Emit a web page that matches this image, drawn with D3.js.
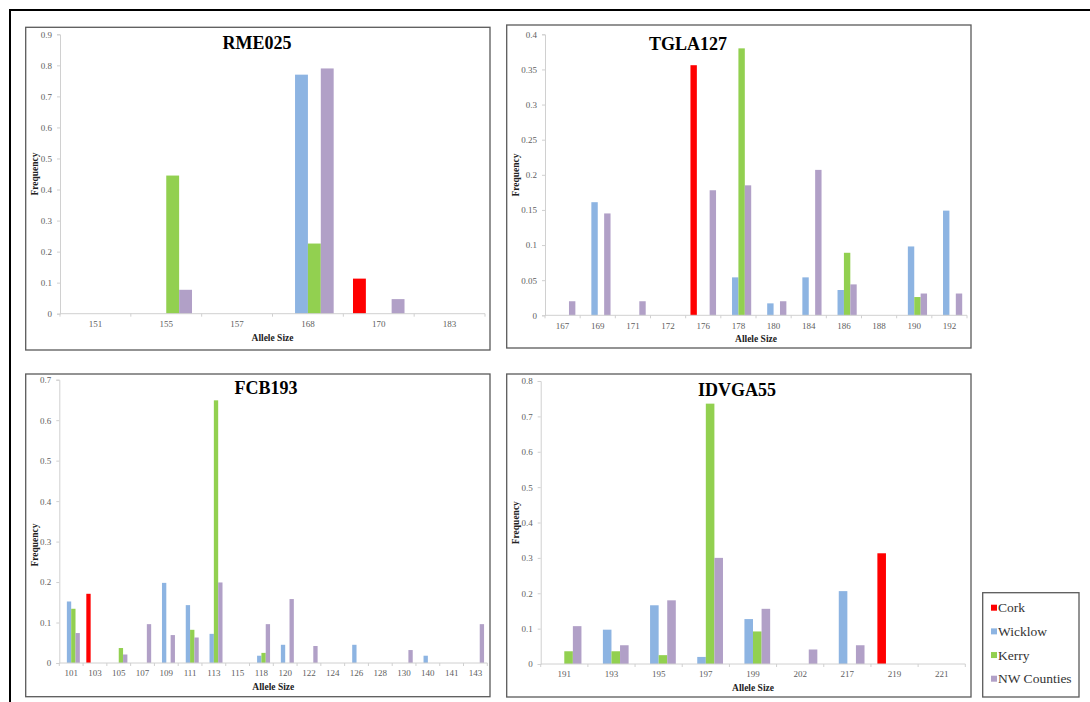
<!DOCTYPE html>
<html>
<head>
<meta charset="utf-8">
<script src="https://cdn.jsdelivr.net/npm/d3@7"></script>
<style>
  html, body { margin: 0; padding: 0; background: #fff; }
  svg { display: block; }
</style>
</head>
<body>
<svg id="chart" width="1090" height="702"></svg>
<script>
// ---------- DATA ----------
const seriesNames = ["Cork", "Wicklow", "Kerry", "NW Counties"];
const seriesColors = ["#FF0000", "#8DB4E2", "#92D050", "#B1A0C7"];

const rmeAlleles  = ["151", "155", "157", "168", "170", "183"];
const rmeCork     = [0, 0, 0, 0, 0.113, 0];
const rmeWicklow  = [0, 0, 0, 0.77, 0, 0];
const rmeKerry    = [0, 0.445, 0, 0.226, 0, 0];
const rmeNW       = [0, 0.077, 0, 0.79, 0.047, 0];
const rmeTicks    = [0, 0.1, 0.2, 0.3, 0.4, 0.5, 0.6, 0.7, 0.8, 0.9];

const tglaAlleles = ["167", "169", "171", "172", "176", "178", "180", "184", "186", "188", "190", "192"];
const tglaCork    = [0, 0, 0, 0, 0.356, 0, 0, 0, 0, 0, 0, 0];
const tglaWicklow = [0, 0.161, 0, 0, 0, 0.054, 0.017, 0.054, 0.036, 0, 0.098, 0.149];
const tglaKerry   = [0, 0, 0, 0, 0, 0.38, 0, 0, 0.089, 0, 0.026, 0];
const tglaNW      = [0.02, 0.145, 0.02, 0, 0.178, 0.185, 0.02, 0.207, 0.044, 0, 0.031, 0.031];
const tglaTicks   = [0, 0.05, 0.1, 0.15, 0.2, 0.25, 0.3, 0.35, 0.4];

const fcbAlleles  = ["101", "103", "105", "107", "109", "111", "113", "115", "118", "120", "122", "124", "126", "128", "130", "140", "141", "143"];
const fcbCork     = [0, 0.171, 0, 0, 0, 0, 0, 0, 0, 0, 0, 0, 0, 0, 0, 0, 0, 0];
const fcbWicklow  = [0.152, 0, 0, 0, 0.198, 0.143, 0.072, 0, 0.018, 0.045, 0, 0, 0.045, 0, 0, 0.018, 0, 0];
const fcbKerry    = [0.134, 0, 0.037, 0, 0, 0.082, 0.649, 0, 0.025, 0, 0, 0, 0, 0, 0, 0, 0, 0];
const fcbNW       = [0.074, 0, 0.021, 0.096, 0.069, 0.063, 0.199, 0, 0.096, 0.158, 0.042, 0, 0, 0, 0.032, 0, 0, 0.096];
const fcbTicks    = [0, 0.1, 0.2, 0.3, 0.4, 0.5, 0.6, 0.7];

const idvAlleles  = ["191", "193", "195", "197", "199", "202", "217", "219", "221"];
const idvCork     = [0, 0, 0, 0, 0, 0, 0, 0.313, 0];
const idvWicklow  = [0, 0.097, 0.166, 0.02, 0.127, 0, 0.206, 0, 0];
const idvKerry    = [0.036, 0.036, 0.025, 0.736, 0.092, 0, 0, 0, 0];
const idvNW       = [0.107, 0.053, 0.18, 0.3, 0.156, 0.041, 0.053, 0, 0];
const idvTicks    = [0, 0.1, 0.2, 0.3, 0.4, 0.5, 0.6, 0.7, 0.8];

// ---------- LAYOUT ----------
const panels = [
  { title: "RME025", alleles: rmeAlleles, series: [rmeCork, rmeWicklow, rmeKerry, rmeNW], ticks: rmeTicks,
    box: [25.7, 27.3, 490, 350], plot: [60, 34.3, 485, 313.7], titleX: 257, titleY: 49.3, freqY: 174 },
  { title: "TGLA127", alleles: tglaAlleles, series: [tglaCork, tglaWicklow, tglaKerry, tglaNW], ticks: tglaTicks,
    box: [506.7, 25, 971, 348], plot: [545, 34.3, 967, 315.3], titleX: 688, titleY: 50, freqY: 175 },
  { title: "FCB193", alleles: fcbAlleles, series: [fcbCork, fcbWicklow, fcbKerry, fcbNW], ticks: fcbTicks,
    box: [25.7, 374, 490, 696.7], plot: [59.3, 379.7, 487.3, 663], titleX: 266, titleY: 394.3, freqY: 545 },
  { title: "IDVGA55", alleles: idvAlleles, series: [idvCork, idvWicklow, idvKerry, idvNW], ticks: idvTicks,
    box: [506.7, 374, 971, 697], plot: [540.7, 381, 965.3, 664], titleX: 737, titleY: 395.7, freqY: 522.7 }
];

const serif = "'Liberation Serif', 'Times New Roman', serif";
const svg = d3.select("#chart");

// outer frame (top and left edges)
svg.append("path")
  .attr("d", "M10,702 L10,10 L1090,10")
  .attr("fill", "none").attr("stroke", "#000").attr("stroke-width", 2);

panels.forEach(p => {
  const [bx0, by0, bx1, by1] = p.box;
  const [px0, pyTop, px1, py0] = p.plot;

  svg.append("rect")
    .attr("x", bx0).attr("y", by0).attr("width", bx1 - bx0).attr("height", by1 - by0)
    .attr("fill", "#fff").attr("stroke", "#5a5a5a").attr("stroke-width", 1.3);

  const yMax = p.ticks[p.ticks.length - 1];
  const y = d3.scaleLinear().domain([0, yMax]).range([py0, pyTop]);
  const x = d3.scaleBand().domain(p.alleles).range([px0, px1]).padding(0);
  const xs = d3.scaleBand().domain(seriesNames).range([0, x.bandwidth()])
    .paddingInner(0).paddingOuter(0.75);

  const g = svg.append("g");

  // Y axis
  const yAxis = d3.axisLeft(y).tickValues(p.ticks).tickSize(3).tickPadding(5)
    .tickFormat(d => d3.format("~g")(+d.toFixed(2)));
  const yg = g.append("g").attr("transform", `translate(${px0},0)`).call(yAxis)
    .attr("font-family", serif).attr("font-size", 9);
  yg.select(".domain").attr("stroke", "#d0d0d0");
  yg.selectAll(".tick line").attr("stroke", "#d0d0d0");
  yg.selectAll(".tick text").attr("fill", "#606060");

  // Bars
  p.series.forEach((vals, si) => {
    g.append("g").selectAll("rect")
      .data(vals.map((v, i) => ({ v, a: p.alleles[i] })).filter(d => d.v > 0))
      .join("rect")
      .attr("x", d => x(d.a) + xs(seriesNames[si]))
      .attr("width", xs.bandwidth())
      .attr("y", d => y(d.v))
      .attr("height", d => y(0) - y(d.v))
      .attr("fill", seriesColors[si]);
  });

  // X axis
  const xAxis = d3.axisBottom(x).tickSize(0).tickPadding(7);
  const xg = g.append("g").attr("transform", `translate(0,${py0})`).call(xAxis)
    .attr("font-family", serif).attr("font-size", 9);
  xg.select(".domain").remove();
  xg.selectAll(".tick text").attr("fill", "#606060");
  g.append("line").attr("x1", px0).attr("x2", px1).attr("y1", py0).attr("y2", py0)
    .attr("stroke", "#d0d0d0").attr("stroke-width", 1);
  const bounds = p.alleles.map(a => x(a)).concat([px1]);
  g.append("g").selectAll("line").data(bounds).join("line")
    .attr("x1", d => d).attr("x2", d => d).attr("y1", py0).attr("y2", py0 + 3)
    .attr("stroke", "#d0d0d0");

  // Titles
  g.append("text").attr("x", p.titleX).attr("y", p.titleY)
    .attr("text-anchor", "middle").attr("font-family", serif).attr("font-weight", "bold")
    .attr("font-size", 18).attr("fill", "#000").text(p.title);

  g.append("text").attr("x", (px0 + px1) / 2).attr("y", py0 + 27)
    .attr("text-anchor", "middle").attr("font-family", serif).attr("font-weight", "bold")
    .attr("font-size", 9.5).attr("fill", "#222").text("Allele Size");

  const fx = bx0 + 12.5;
  g.append("text").attr("transform", `translate(${fx},${p.freqY}) rotate(-90)`)
    .attr("text-anchor", "middle").attr("font-family", serif).attr("font-weight", "bold")
    .attr("font-size", 9.5).attr("fill", "#222").text("Frequency");
});

// Legend
const lg = svg.append("g");
lg.append("rect").attr("x", 982.7).attr("y", 592.7).attr("width", 96.3).attr("height", 104.3)
  .attr("fill", "#fff").attr("stroke", "#5a5a5a").attr("stroke-width", 1.3);
const legendY = d3.scalePoint().domain(seriesNames).range([607.7, 678.7]);
seriesNames.forEach((name, i) => {
  lg.append("rect").attr("x", 991).attr("y", legendY(name) - 3).attr("width", 6).attr("height", 6)
    .attr("fill", seriesColors[i]);
  lg.append("text").attr("x", 998).attr("y", legendY(name)).attr("dy", "0.35em")
    .attr("font-family", serif).attr("font-size", 13.5).attr("fill", "#333").text(name);
});
</script>
</body>
</html>
